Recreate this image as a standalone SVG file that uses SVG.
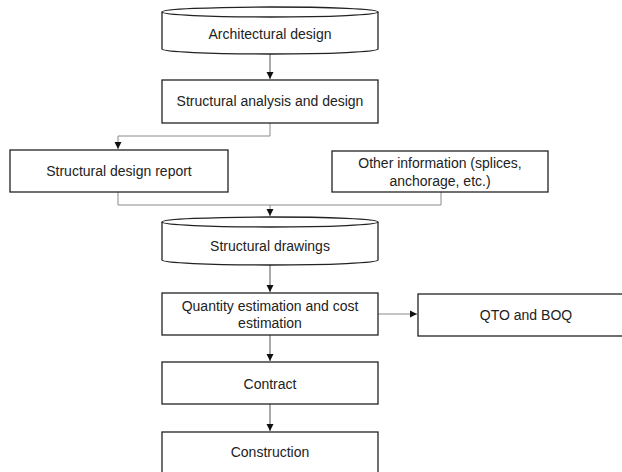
<svg xmlns="http://www.w3.org/2000/svg" width="622" height="472" viewBox="0 0 622 472">
<defs>
<marker id="arr" markerWidth="8" markerHeight="8" refX="7" refY="4" orient="auto" markerUnits="userSpaceOnUse">
<path d="M0,0.5 L7,4 L0,7.5 Z" fill="#111"/>
</marker>
<style>
.box{fill:#fff;stroke:#222;stroke-width:1.3}
.t{font-family:"Liberation Sans",Arial,sans-serif;font-size:14px;fill:#222;text-anchor:middle;dominant-baseline:central}
.c{fill:none;stroke:#8a8a8a;stroke-width:1}
.ca{fill:none;stroke:#555;stroke-width:1}
</style>
</defs>
<rect width="622" height="472" fill="#fff"/>
<g id="connectors">
<path class="ca" d="M270,54 L270,79" marker-end="url(#arr)"/>
<path class="c" d="M270,123 L270,136 L118,136 L118,149" marker-end="url(#arr)"/>
<path class="c" d="M118,192 L118,205 L441,205"/>
<path class="c" d="M441,192 L441,205"/>
<path class="c" d="M270,205 L270,216" marker-end="url(#arr)"/>
<path class="ca" d="M270,265 L270,292" marker-end="url(#arr)"/>
<path class="c" d="M378,314 L417,314" marker-end="url(#arr)"/>
<path class="ca" d="M270,335 L270,361" marker-end="url(#arr)"/>
<path class="ca" d="M270,404 L270,431" marker-end="url(#arr)"/>
</g>
<g id="architectural-design">
<path class="box" d="M162,12 L162,49 A108,5 0 0,0 378,49 L378,12"/>
<ellipse class="box" cx="270" cy="12" rx="108" ry="5"/>
<text class="t" x="270" y="34">Architectural design</text>
</g>
<g id="structural-analysis">
<rect class="box" x="162" y="80" width="216" height="43"/>
<text class="t" x="270" y="101">Structural analysis and design</text>
</g>
<g id="structural-design-report">
<rect class="box" x="10" y="150" width="218" height="42"/>
<text class="t" x="119" y="171">Structural design report</text>
</g>
<g id="other-information">
<rect class="box" x="332" y="151" width="216" height="41"/>
<text class="t" x="440" y="163">Other information (splices,</text>
<text class="t" x="440" y="181">anchorage, etc.)</text>
</g>
<g id="structural-drawings">
<path class="box" d="M162,222 L162,260 A108,5 0 0,0 378,260 L378,222"/>
<ellipse class="box" cx="270" cy="222" rx="108" ry="5"/>
<text class="t" x="270" y="246">Structural drawings</text>
</g>
<g id="quantity-estimation">
<rect class="box" x="162" y="293" width="216" height="42"/>
<text class="t" x="270" y="306">Quantity estimation and cost</text>
<text class="t" x="270" y="323">estimation</text>
</g>
<g id="qto-boq">
<rect class="box" x="418" y="294" width="210" height="42"/>
<text class="t" x="526" y="315">QTO and BOQ</text>
</g>
<g id="contract">
<rect class="box" x="162" y="362" width="216" height="42"/>
<text class="t" x="270" y="384">Contract</text>
</g>
<g id="construction">
<rect class="box" x="162" y="432" width="216" height="46"/>
<text class="t" x="270" y="452">Construction</text>
</g>
</svg>
